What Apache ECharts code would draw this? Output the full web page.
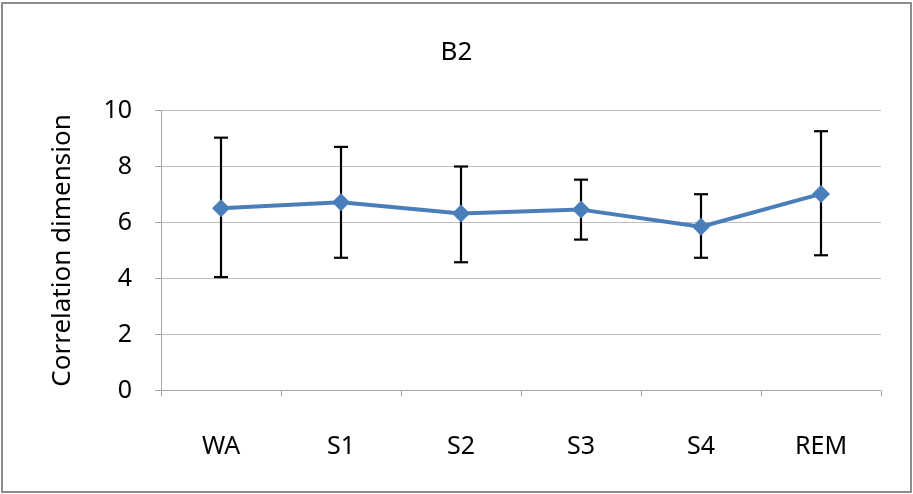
<!DOCTYPE html>
<html>
<head>
<meta charset="utf-8">
<script src="https://cdn.jsdelivr.net/npm/echarts@6/dist/echarts.min.js"></script>
<style>
html,body{margin:0;padding:0;background:#fff;}
#frame{position:absolute;left:1px;top:2px;width:907px;height:487px;border:2px solid #8c8c8c;}
#chart{position:absolute;left:0;top:0;width:913px;height:494px;}
</style>
</head>
<body>
<div id="frame"></div>
<div id="chart"></div>
<script>
const categories = ['WA', 'S1', 'S2', 'S3', 'S4', 'REM'];
const means = [6.51, 6.72, 6.32, 6.46, 5.85, 7.02];
const upper = [9.03, 8.70, 8.00, 7.53, 7.01, 9.26];
const lower = [4.05, 4.74, 4.58, 5.39, 4.74, 4.83];
const yTicks = [0, 2, 4, 6, 8, 10];

const FONT = '"Noto Sans", "Open Sans", sans-serif';
const chart = echarts.init(document.getElementById('chart'), null, {renderer: 'canvas'});
const errData = categories.map((c, i) => [i, lower[i], upper[i]]);

chart.setOption({
  backgroundColor: 'transparent',
  animation: false,
  title: {
    text: 'B2', left: 'center', top: 35,
    textStyle: {fontFamily: FONT, fontSize: 26, fontWeight: 'normal', color: '#000'}
  },
  grid: {left: 161, right: 32, top: 110.5, bottom: 103.5, containLabel: false},
  xAxis: {
    type: 'category', data: categories, boundaryGap: true,
    axisLine: {lineStyle: {color: '#a6a6a6', width: 1}},
    axisTick: {show: true, length: 6, lineStyle: {color: '#a6a6a6'}},
    axisLabel: {fontFamily: FONT, fontSize: 25, color: '#000', margin: 44}
  },
  yAxis: {
    type: 'value', min: yTicks[0], max: yTicks[yTicks.length - 1], interval: 2,
    name: 'Correlation dimension', nameLocation: 'middle', nameGap: 85,
    nameTextStyle: {fontFamily: FONT, fontSize: 26, color: '#000'},
    axisLine: {show: true, lineStyle: {color: '#a6a6a6', width: 1}},
    axisTick: {show: true, length: 6, lineStyle: {color: '#a6a6a6'}},
    axisLabel: {fontFamily: FONT, fontSize: 25, color: '#000', margin: 29},
    splitLine: {show: true, lineStyle: {color: '#bfbfbf', width: 1}}
  },
  series: [
    {
      type: 'custom',
      z: 3,
      data: errData,
      renderItem: function (params, api) {
        const x = api.value(0);
        const lo = api.coord([x, api.value(1)]);
        const hi = api.coord([x, api.value(2)]);
        const cap = 7;
        const style = {stroke: '#000', lineWidth: 2.2};
        return {
          type: 'group',
          children: [
            {type: 'line', shape: {x1: lo[0], y1: lo[1], x2: hi[0], y2: hi[1]}, style: style},
            {type: 'line', shape: {x1: hi[0] - cap, y1: hi[1], x2: hi[0] + cap, y2: hi[1]}, style: style},
            {type: 'line', shape: {x1: lo[0] - cap, y1: lo[1], x2: lo[0] + cap, y2: lo[1]}, style: style}
          ]
        };
      }
    },
    {
      type: 'line',
      z: 4,
      data: means,
      symbol: 'diamond',
      symbolSize: 18,
      lineStyle: {color: '#4a7ebb', width: 4},
      itemStyle: {color: '#4a7ebb'}
    }
  ]
});
</script>
</body>
</html>
